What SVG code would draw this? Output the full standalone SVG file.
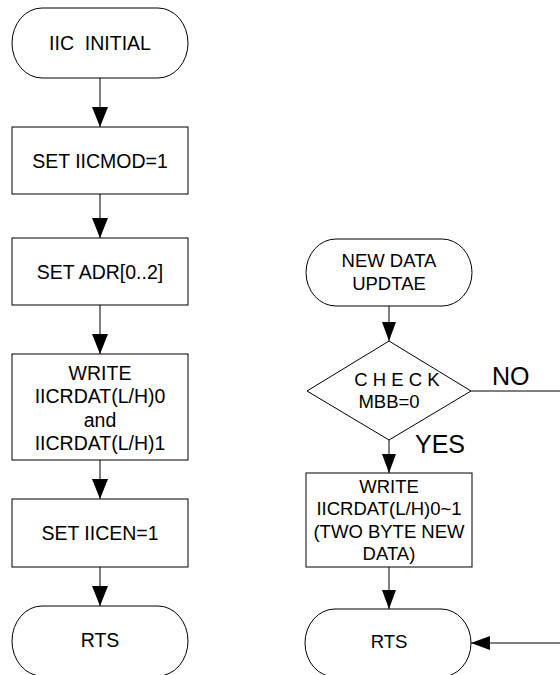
<svg xmlns="http://www.w3.org/2000/svg" width="560" height="675" viewBox="0 0 560 675">
<style>
.shape{fill:#fff;stroke:#000;stroke-width:1}
.conn{fill:none;stroke:#000;stroke-width:1}
.t{font-family:"Liberation Sans",Arial,sans-serif;font-size:19.5px;fill:#000;text-anchor:middle}
.tr{font-family:"Liberation Sans",Arial,sans-serif;font-size:18.5px;fill:#000;text-anchor:middle}
.big{font-family:"Liberation Sans",Arial,sans-serif;font-size:25px;fill:#000}
</style>
<defs>
<marker id="ah" markerUnits="userSpaceOnUse" markerWidth="20" markerHeight="16" refX="20" refY="8" orient="auto">
<path d="M0,0 L20,8 L0,16 z" fill="#000"/>
</marker>
<marker id="ahs" markerUnits="userSpaceOnUse" markerWidth="19" markerHeight="14" refX="19" refY="7" orient="auto">
<path d="M0,0 L19,7 L0,14 z" fill="#000"/>
</marker>
</defs>
<rect width="560" height="675" fill="#fff"/>
<g id="connectors">
<line class="conn" x1="100" y1="78" x2="100" y2="127" marker-end="url(#ah)"/>
<line class="conn" x1="100" y1="194" x2="100" y2="238" marker-end="url(#ah)"/>
<line class="conn" x1="100" y1="305" x2="100" y2="354" marker-end="url(#ah)"/>
<line class="conn" x1="100" y1="460" x2="100" y2="499" marker-end="url(#ah)"/>
<line class="conn" x1="100" y1="567" x2="100" y2="606" marker-end="url(#ah)"/>
<line class="conn" x1="389" y1="306" x2="389" y2="341" marker-end="url(#ahs)"/>
<line class="conn" x1="389" y1="440" x2="389" y2="473" marker-end="url(#ahs)"/>
<line class="conn" x1="389" y1="567" x2="389" y2="609" marker-end="url(#ahs)"/>
<line class="conn" x1="471" y1="391" x2="560" y2="391"/>
<line class="conn" x1="560" y1="643" x2="471" y2="643" marker-end="url(#ahs)"/>
<text class="big" x="492" y="385">NO</text>
<text class="big" x="415" y="453">YES</text>
</g>
<g id="iic_initial">
<rect class="shape" x="12" y="8" width="176" height="70" rx="30" ry="35"/>
<text class="t" x="100" y="50" xml:space="preserve">IIC  INITIAL</text>
</g>
<g id="set_iicmod">
<rect class="shape" x="12" y="127" width="176" height="67"/>
<text class="t" x="100" y="168">SET IICMOD=1</text>
</g>
<g id="set_adr">
<rect class="shape" x="12" y="238" width="176" height="67"/>
<text class="t" x="100" y="279">SET ADR[0..2]</text>
</g>
<g id="write_left">
<rect class="shape" x="12" y="354" width="176" height="106"/>
<text class="t" x="100" y="380">WRITE</text>
<text class="t" x="100" y="403">IICRDAT(L/H)0</text>
<text class="t" x="100" y="427">and</text>
<text class="t" x="100" y="450">IICRDAT(L/H)1</text>
</g>
<g id="set_iicen">
<rect class="shape" x="12" y="499" width="176" height="68"/>
<text class="t" x="100" y="540">SET IICEN=1</text>
</g>
<g id="rts_left">
<rect class="shape" x="12" y="606" width="176" height="70" rx="30" ry="35"/>
<text class="t" x="100" y="647">RTS</text>
</g>
<g id="new_data">
<rect class="shape" x="306" y="239" width="166" height="67" rx="30" ry="33.5"/>
<text class="tr" x="389" y="267">NEW DATA</text>
<text class="tr" x="389" y="290">UPDTAE</text>
</g>
<g id="check">
<polygon class="shape" points="389,341 471,391 389,440 307,391"/>
<text class="tr" x="397" y="386">C H E C K</text>
<text class="tr" x="389" y="408">MBB=0</text>
</g>
<g id="write_right">
<rect class="shape" x="306" y="473" width="166" height="94"/>
<text class="tr" x="389" y="493">WRITE</text>
<text class="tr" x="389" y="515">IICRDAT(L/H)0~1</text>
<text class="tr" x="389" y="538">(TWO BYTE NEW</text>
<text class="tr" x="389" y="560">DATA)</text>
</g>
<g id="rts_right">
<rect class="shape" x="305" y="609" width="166" height="68" rx="30" ry="34"/>
<text class="tr" x="389" y="648">RTS</text>
</g>
</svg>
